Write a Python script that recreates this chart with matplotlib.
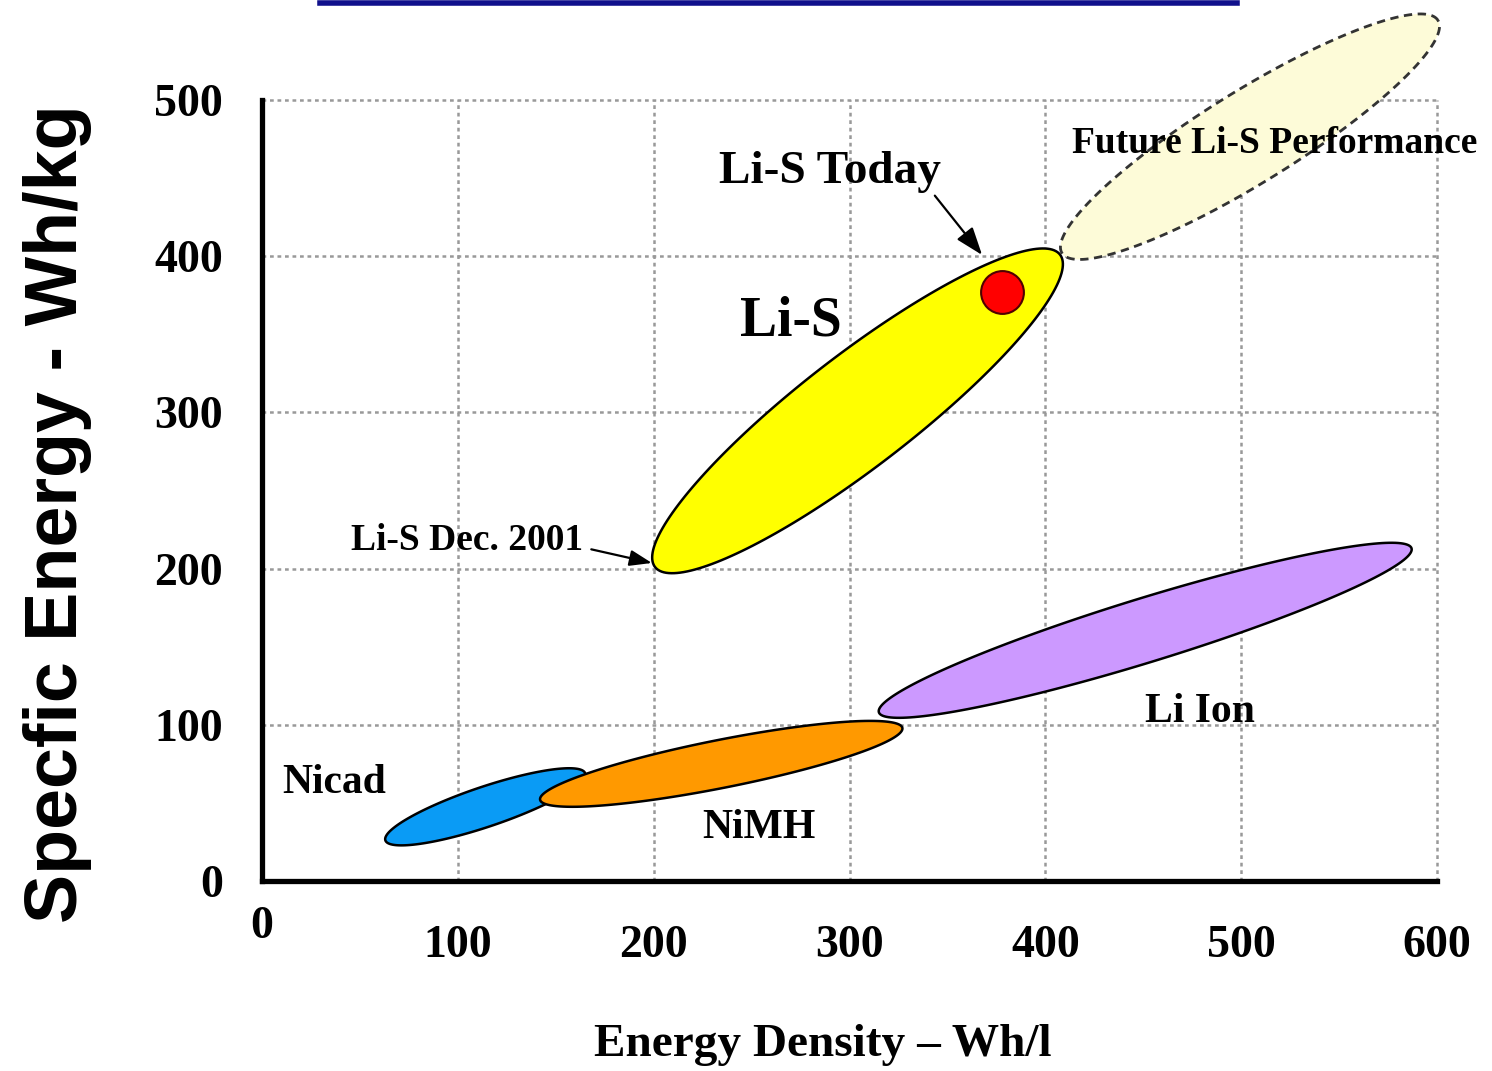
import numpy as np
import matplotlib.pyplot as plt
from matplotlib.patches import Polygon
from matplotlib.lines import Line2D

# battery regions, drawn as ellipses between two end points (Wh/l, Wh/kg)
names = ['Nicad', 'Li Ion', 'NiMH', 'Future Li-S', 'Li-S']
x_start = [63, 315, 142, 408.5, 200.7]
y_start = [26, 108, 52, 402, 201]
x_end = [165, 587, 327, 600.5, 407.5]
y_end = [69, 213, 98, 551, 401]
thick_px = [40, 64, 48, 92, 112]
colors = ['#0A9BF5', '#CC99FF', '#FF9900', '#FDFBD8', '#FFFF00']

# Li-S today point
today_x = [378]
today_y = [377]

# region labels
lab_text = ['Nicad', 'NiMH', 'Li Ion', 'Li-S', 'Future Li-S Performance']
lab_x = [37, 254, 479, 270, 517]
lab_y = [63, 34, 108, 358, 472]
lab_size = [30, 30, 30, 40, 27]

x_ticks = [0, 100, 200, 300, 400, 500, 600]
y_ticks = [0, 100, 200, 300, 400, 500]

serif = 'Liberation Serif'

fig = plt.figure(figsize=(14.92, 10.71), dpi=100)
ax = fig.add_axes([262/1492, 1-881/1071, 1175/1492, 781/1071])
ax.set_xlim(0, 600)
ax.set_ylim(0, 500)

for s in ['top', 'right']:
    ax.spines[s].set_visible(False)
for s in ['left', 'bottom']:
    ax.spines[s].set_linewidth(3.8)
    ax.spines[s].set_zorder(5)

ax.set_xticks(x_ticks)
ax.set_yticks(y_ticks)
ax.set_xticklabels([str(v) for v in x_ticks], fontfamily=serif, fontweight='bold', fontsize=33)
ax.set_yticklabels([str(v) for v in y_ticks], fontfamily=serif, fontweight='bold', fontsize=33)
ax.tick_params(axis='both', length=0)
ax.tick_params(axis='x', pad=32)
ax.tick_params(axis='y', pad=28)
ax.xaxis.get_major_ticks()[0].label1.set_y(0.025)

for v in x_ticks[1:]:
    ax.axvline(v, color='#999999', lw=1.8, dashes=(1.5, 1.5), zorder=0, clip_on=False)
for v in y_ticks[1:]:
    ax.axhline(v, color='#999999', lw=1.8, dashes=(1.5, 1.5), zorder=0, clip_on=False)

# ellipses built in pixel space so they keep their look, then mapped back to data
t = np.linspace(0, 2*np.pi, 200)
inv = ax.transData.inverted()
for i in range(len(names)):
    p1 = ax.transData.transform((x_start[i], y_start[i]))
    p2 = ax.transData.transform((x_end[i], y_end[i]))
    c = (p1 + p2) / 2
    d = p2 - p1
    a = np.hypot(*d) / 2
    u = d / (2*a)
    n = np.array([-u[1], u[0]])
    b = thick_px[i] / 2
    pts = c + np.outer(a*np.cos(t), u) + np.outer(b*np.sin(t), n)
    data_pts = inv.transform(pts)
    if names[i] == 'Future Li-S':
        poly = Polygon(data_pts, closed=True, fc=colors[i], ec='#333333', lw=2,
                       ls=(0, (3, 2)), clip_on=False, zorder=2)
    else:
        poly = Polygon(data_pts, closed=True, fc=colors[i], ec='black', lw=1.8,
                       clip_on=False, zorder=2)
    ax.add_patch(poly)

ax.scatter(today_x, today_y, s=950, c='#FF0000', edgecolors='#500000', linewidths=1.5, zorder=4)

for i in range(len(lab_text)):
    ax.text(lab_x[i], lab_y[i], lab_text[i], fontfamily=serif, fontweight='bold',
            fontsize=lab_size[i], ha='center', va='center', zorder=6, clip_on=False)

ax.annotate('Li-S Today', xy=(367.7, 400.8), xytext=(290, 454),
            fontfamily=serif, fontweight='bold', fontsize=34, ha='center', va='center',
            arrowprops=dict(arrowstyle='-|>,head_length=0.5,head_width=0.18', color='black',
                            lw=1.6, relpos=(0.94, 0.15), shrinkA=0, shrinkB=0),
            zorder=6, annotation_clip=False)
ax.annotate('Li-S Dec. 2001', xy=(199.1, 203.6), xytext=(104.7, 218),
            fontfamily=serif, fontweight='bold', fontsize=27, ha='center', va='center',
            arrowprops=dict(arrowstyle='-|>,head_length=0.5,head_width=0.18', color='black',
                            lw=1.6, relpos=(1.0, 0.3), shrinkA=4, shrinkB=0),
            zorder=6, annotation_clip=False)

ax.set_xlabel('Energy Density \u2013 Wh/l', fontfamily=serif, fontweight='bold', fontsize=34, va='center')
ax.xaxis.set_label_coords(0.477, -0.21)
ax.set_ylabel('Specfic Energy - Wh/kg', fontfamily='Liberation Sans', fontweight='bold', fontsize=53, va='center')
ax.yaxis.set_label_coords(-0.174, 0.47)

# title underline at top
fig.add_artist(Line2D([320/1492, 1237/1492], [1-3/1071, 1-3/1071], color='#10108C', lw=4))

fig.savefig('out.png', dpi=100)
